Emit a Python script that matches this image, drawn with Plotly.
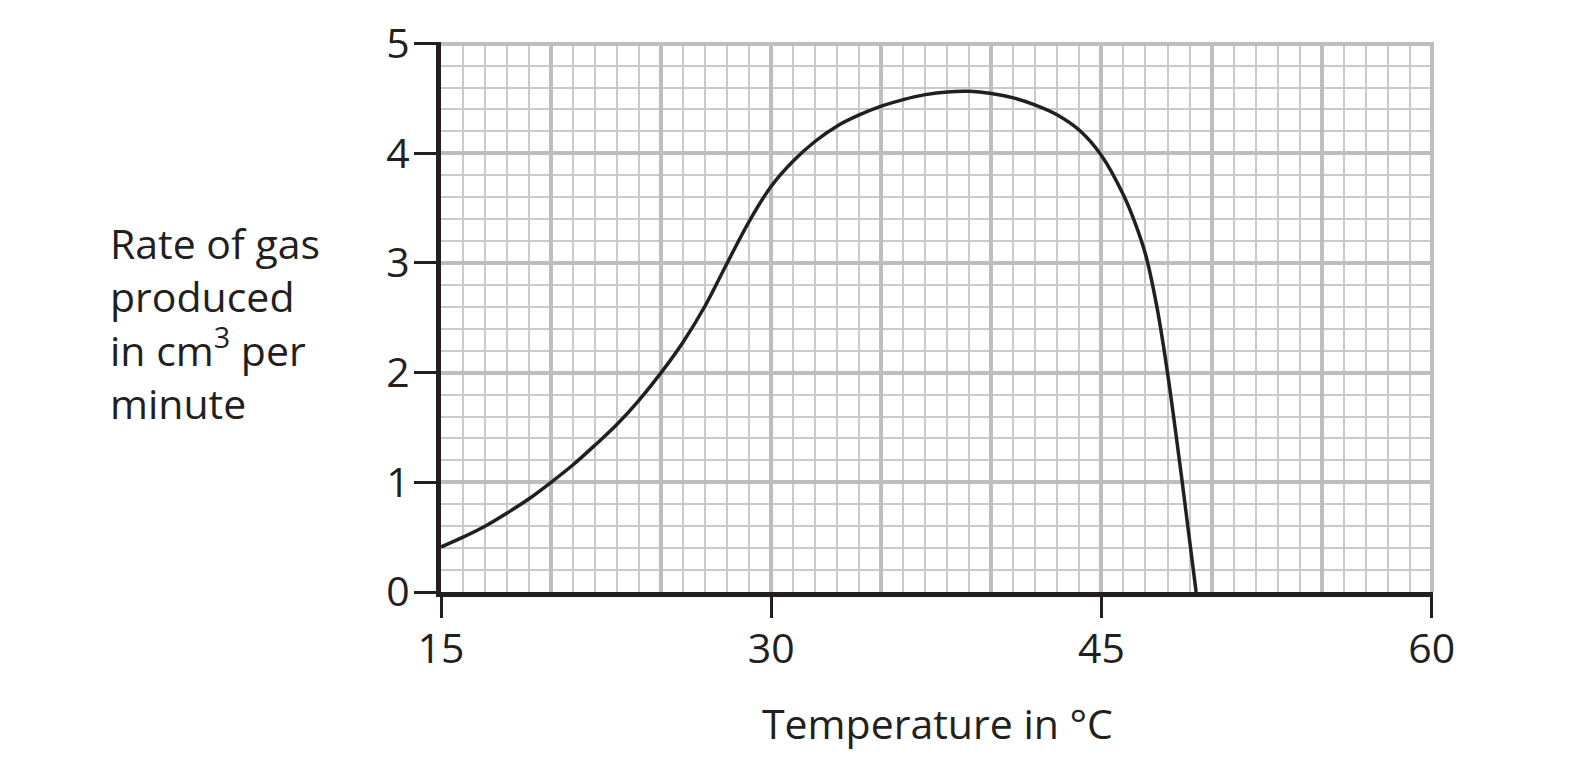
import plotly.graph_objects as go

# Data
temperature = [15, 16, 17, 18, 19, 20, 21, 22, 23, 24, 25, 26, 27, 28, 29, 30,
               31, 32, 33, 34, 35, 36, 37, 38, 39, 40, 41, 42, 43, 44, 45,
               46, 46.5, 47, 47.5, 48, 48.67, 49.3]
rate = [0.41, 0.50, 0.60, 0.72, 0.85, 1.0, 1.16, 1.34, 1.53, 1.75, 2.0, 2.28, 2.61, 3.0, 3.38, 3.70,
        3.93, 4.11, 4.25, 4.35, 4.43, 4.49, 4.535, 4.56, 4.565, 4.545, 4.505, 4.44, 4.35, 4.21, 3.98,
        3.62, 3.38, 3.08, 2.62, 2.0, 1.0, 0.0]

x_tick_values = [15, 30, 45, 60]
x_tick_labels = ["15", "30", "45", "60"]
y_tick_values = [0, 1, 2, 3, 4, 5]
y_tick_labels = ["0", "1", "2", "3", "4", "5"]

x_title = "Temperature in °C"
y_title = "Rate of gas<br>produced<br>in cm<sup>3</sup> per<br>minute"

INK = "#231f20"
MAJOR_GRID = "#bcbec0"
MINOR_GRID = "#c9cacc"
FONT = "Open Sans"
X_RANGE = [15, 60.06]
Y_RANGE = [0, 5.015]

fig = go.Figure()
# invisible trace so the gridded base x axis is drawn
fig.add_trace(go.Scatter(
    x=temperature, y=rate, xaxis="x", yaxis="y", mode="lines",
    line=dict(width=0), opacity=0, showlegend=False, hoverinfo="skip",
))
fig.add_trace(go.Scatter(
    x=temperature, y=rate, xaxis="x2", yaxis="y",
    mode="lines", line=dict(color=INK, width=3.5, shape="spline", smoothing=1.0),
    showlegend=False, hoverinfo="skip",
))

fig.update_layout(
    width=1582, height=777,
    margin=dict(l=433, r=157, t=34, b=193, autoexpand=False),
    paper_bgcolor="white", plot_bgcolor="white",
    font=dict(family=FONT, color=INK, size=41),
    xaxis=dict(
        range=X_RANGE, showgrid=True, dtick=5, tick0=15,
        gridcolor=MAJOR_GRID, gridwidth=4,
        minor=dict(dtick=1, tick0=15, showgrid=True, gridcolor=MINOR_GRID, gridwidth=2),
        showticklabels=False, ticks="", showline=False, zeroline=False,
    ),
    xaxis2=dict(
        overlaying="x", side="bottom", range=X_RANGE,
        tickmode="array", tickvals=x_tick_values, ticktext=x_tick_labels,
        ticks="outside", ticklen=21, tickwidth=3, tickcolor=INK,
        showline=True, linewidth=5, linecolor=INK, showgrid=False, zeroline=False,
        tickfont=dict(family=FONT, size=41, color=INK),
        ticklabelstandoff=-4,
    ),
    yaxis=dict(
        range=Y_RANGE, tickmode="array", tickvals=y_tick_values, ticktext=y_tick_labels,
        showgrid=True, gridcolor=MAJOR_GRID, gridwidth=4,
        minor=dict(dtick=0.2, tick0=0, showgrid=True, gridcolor=MINOR_GRID, gridwidth=2),
        ticks="outside", ticklen=22, tickwidth=3, tickcolor=INK,
        showline=True, linewidth=5, linecolor=INK, zeroline=False,
        tickfont=dict(family=FONT, size=41, color=INK),
        ticklabelstandoff=-4,
    ),
    annotations=[
        dict(text=x_title, xref="paper", yref="paper", x=0.5, y=-0.238,
             xanchor="center", yanchor="middle", showarrow=False,
             font=dict(family=FONT, size=41, color=INK)),
        dict(text=y_title, xref="paper", yref="paper", x=-0.336, y=0.49,
             xanchor="left", yanchor="middle", align="left", showarrow=False,
             font=dict(family=FONT, size=41, color=INK)),
    ],
)

fig.write_html("out.html")
